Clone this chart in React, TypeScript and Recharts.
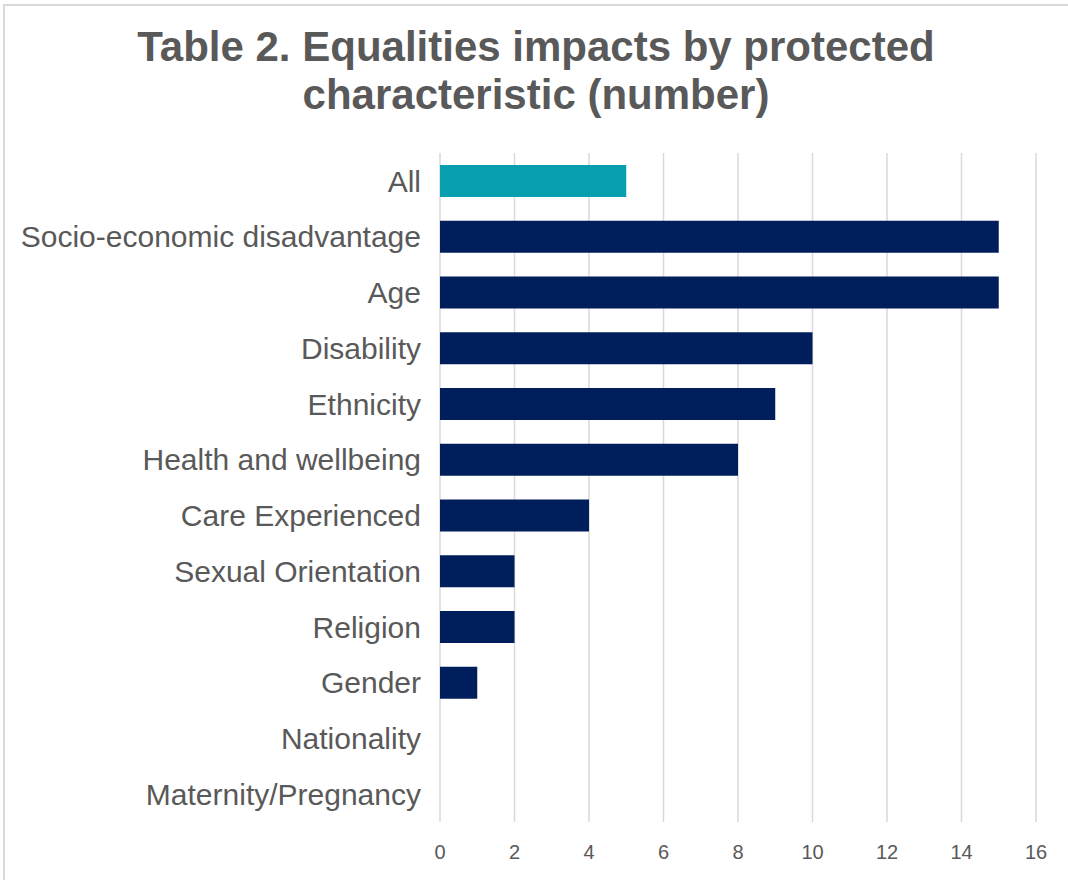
import React from 'react';
import { BarChart, Bar, XAxis, YAxis, CartesianGrid, Cell } from 'recharts';

const categories = [
  'All',
  'Socio-economic disadvantage',
  'Age',
  'Disability',
  'Ethnicity',
  'Health and wellbeing',
  'Care Experienced',
  'Sexual Orientation',
  'Religion',
  'Gender',
  'Nationality',
  'Maternity/Pregnancy',
];
const values = [5, 15, 15, 10, 9, 8, 4, 2, 2, 1, 0, 0];
const xTicks = [0, 2, 4, 6, 8, 10, 12, 14, 16];
const titleLines = ['Table 2. Equalities impacts by protected', 'characteristic (number)'];

const data = categories.map((name, i) => ({ name, value: values[i] }));

const FONT = '"Liberation Sans", Arial, sans-serif';

export default function App() {
  return (
    <div style={{ position: 'absolute', left: 0, top: 0, width: 1068, height: 880, overflow: 'hidden', background: '#fff', fontFamily: FONT }}>
      <div style={{ position: 'absolute', left: 3, top: 4, width: 1100, height: 920, border: '2px solid #D9D9D9', boxSizing: 'border-box' }} />
      <div style={{ position: 'absolute', left: 0, top: 0, width: 1068, height: 880 }}>
        <BarChart
          width={1068}
          height={880}
          data={data}
          layout="vertical"
          margin={{ top: 153, right: 32, bottom: 28, left: 0 }}
          barSize={32}
        >
          <CartesianGrid horizontal={false} vertical={true} stroke="#D9D9D9" strokeWidth={1.5} />
          <XAxis
            type="number"
            domain={[0, 16]}
            ticks={xTicks}
            interval={0}
            axisLine={false}
            tickLine={false}
            tickSize={0}
            tickMargin={23}
            height={30}
            tick={{ fill: '#595959', fontSize: 20, fontFamily: FONT }}
          />
          <YAxis
            type="category"
            dataKey="name"
            width={440}
            axisLine={false}
            tickLine={false}
            tickSize={0}
            tickMargin={19}
            interval={0}
            tick={{ fill: '#595959', fontSize: 30, fontFamily: FONT }}
          />
          <Bar dataKey="value" isAnimationActive={false}>
            {data.map((d, i) => (
              <Cell key={d.name} fill={i === 0 ? '#079FAF' : '#001E5B'} />
            ))}
          </Bar>
        </BarChart>
      </div>
      <div style={{ position: 'absolute', left: 0, top: 0, width: 1072, textAlign: 'center', color: '#595959', fontWeight: 'bold', fontSize: 42, lineHeight: '48px', paddingTop: 23 }}>
        {titleLines.map((t) => (
          <div key={t}>{t}</div>
        ))}
      </div>
    </div>
  );
}
